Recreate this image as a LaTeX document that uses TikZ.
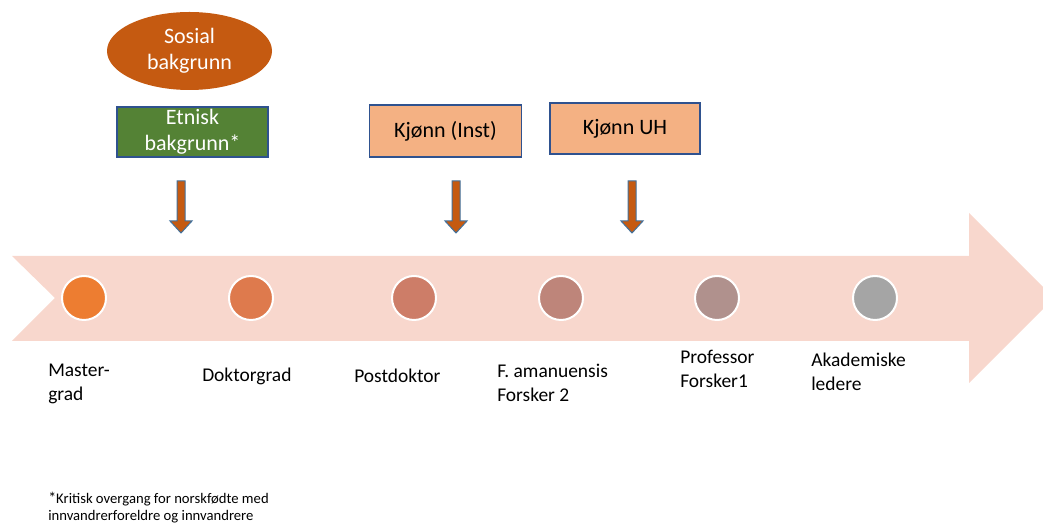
\documentclass[tikz,border=0pt]{standalone}
\usepackage{fontspec}
\setmainfont{Carlito}
\usetikzlibrary{shapes.geometric}
\definecolor{peach}{RGB}{248,215,205}
\definecolor{rust}{RGB}{197,90,17}
\definecolor{leaf}{RGB}{84,130,53}
\definecolor{salmon}{RGB}{244,177,131}
\definecolor{edgeblue}{RGB}{47,82,143}
\definecolor{arrowblue}{RGB}{65,113,156}
\definecolor{stepA}{RGB}{237,125,49}
\definecolor{stepB}{RGB}{222,122,77}
\definecolor{stepC}{RGB}{205,125,104}
\definecolor{stepD}{RGB}{190,133,122}
\definecolor{stepE}{RGB}{176,145,141}
\definecolor{stepF}{RGB}{165,165,165}

\begin{document}
\begin{tikzpicture}[x=0.75pt,y=-0.75pt,
    box/.style={draw=edgeblue,line width=0.9pt,inner sep=0pt,align=center,font=\fontsize{16.5}{19.5}\selectfont},
    dot/.style={circle,draw=white,line width=1.5pt,minimum size=33pt,inner sep=0pt},
    lbl/.style={anchor=west,align=left,inner sep=0pt,font=\fontsize{14.6}{18}\selectfont}]
    \useasboundingbox (0,0) rectangle (1043,523);
    \clip (0,0) rectangle (1043,523);
    % timeline arrow
    \fill[peach] (12,256) -- (969,256) -- (969,213) -- (1054,298) -- (969,383) -- (969,341) -- (12,341) -- (55,298) -- cycle;
    % factors
    \node[ellipse,fill=rust,text=white,minimum width=123.75pt,minimum height=58.5pt,inner sep=0pt,align=center,font=\fontsize{16.5}{19.5}\selectfont] (sosial) at (189.5,51) {Sosial\\bakgrunn};
    \node[box,fill=leaf,text=white,minimum width=113.25pt,minimum height=37.5pt] (etnisk) at (192.5,132) {Etnisk\\bakgrunn*};
    \node[box,fill=salmon,minimum width=114pt,minimum height=39pt] (kjinst) at (445.5,131) {Kjønn (Inst)};
    \node[box,fill=salmon,minimum width=112.5pt,minimum height=38.25pt] (kjuh) at (625,128.5) {Kjønn UH};
    \foreach \x in {181,456,632}
      \draw[draw=arrowblue,fill=rust,line width=0.75pt] (\x-4,181) -- (\x+4,181) -- (\x+4,221) -- (\x+11,221) -- (\x,233) -- (\x-11,221) -- (\x-4,221) -- cycle;
    % career steps
    \foreach \x/\c [count=\i] in {84/stepA,251/stepB,414/stepC,561/stepD,717/stepE,875/stepF}
      \node[dot,fill=\c] (s\i) at (\x,298) {};
    \node[lbl] (master) at (48,384) {Master-\\grad};
    \node[lbl] (dr) at (202,376) {Doktorgrad};
    \node[lbl] (postdok) at (354,376) {Postdoktor};
    \node[lbl] (famanu) at (497,383) {F. amanuensis\\Forsker 2};
    \node[lbl] (prof) at (680,369) {Professor\\Forsker1};
    \node[lbl] (leder) at (811,372) {Akademiske\\ledere};
    % footnote
    \node[anchor=west,align=left,inner sep=0pt,font=\fontsize{11}{13}\selectfont] (note) at (48,507.5) {{\large*}Kritisk overgang for norskfødte med\\innvandrerforeldre og innvandrere};
\end{tikzpicture}
\end{document}
